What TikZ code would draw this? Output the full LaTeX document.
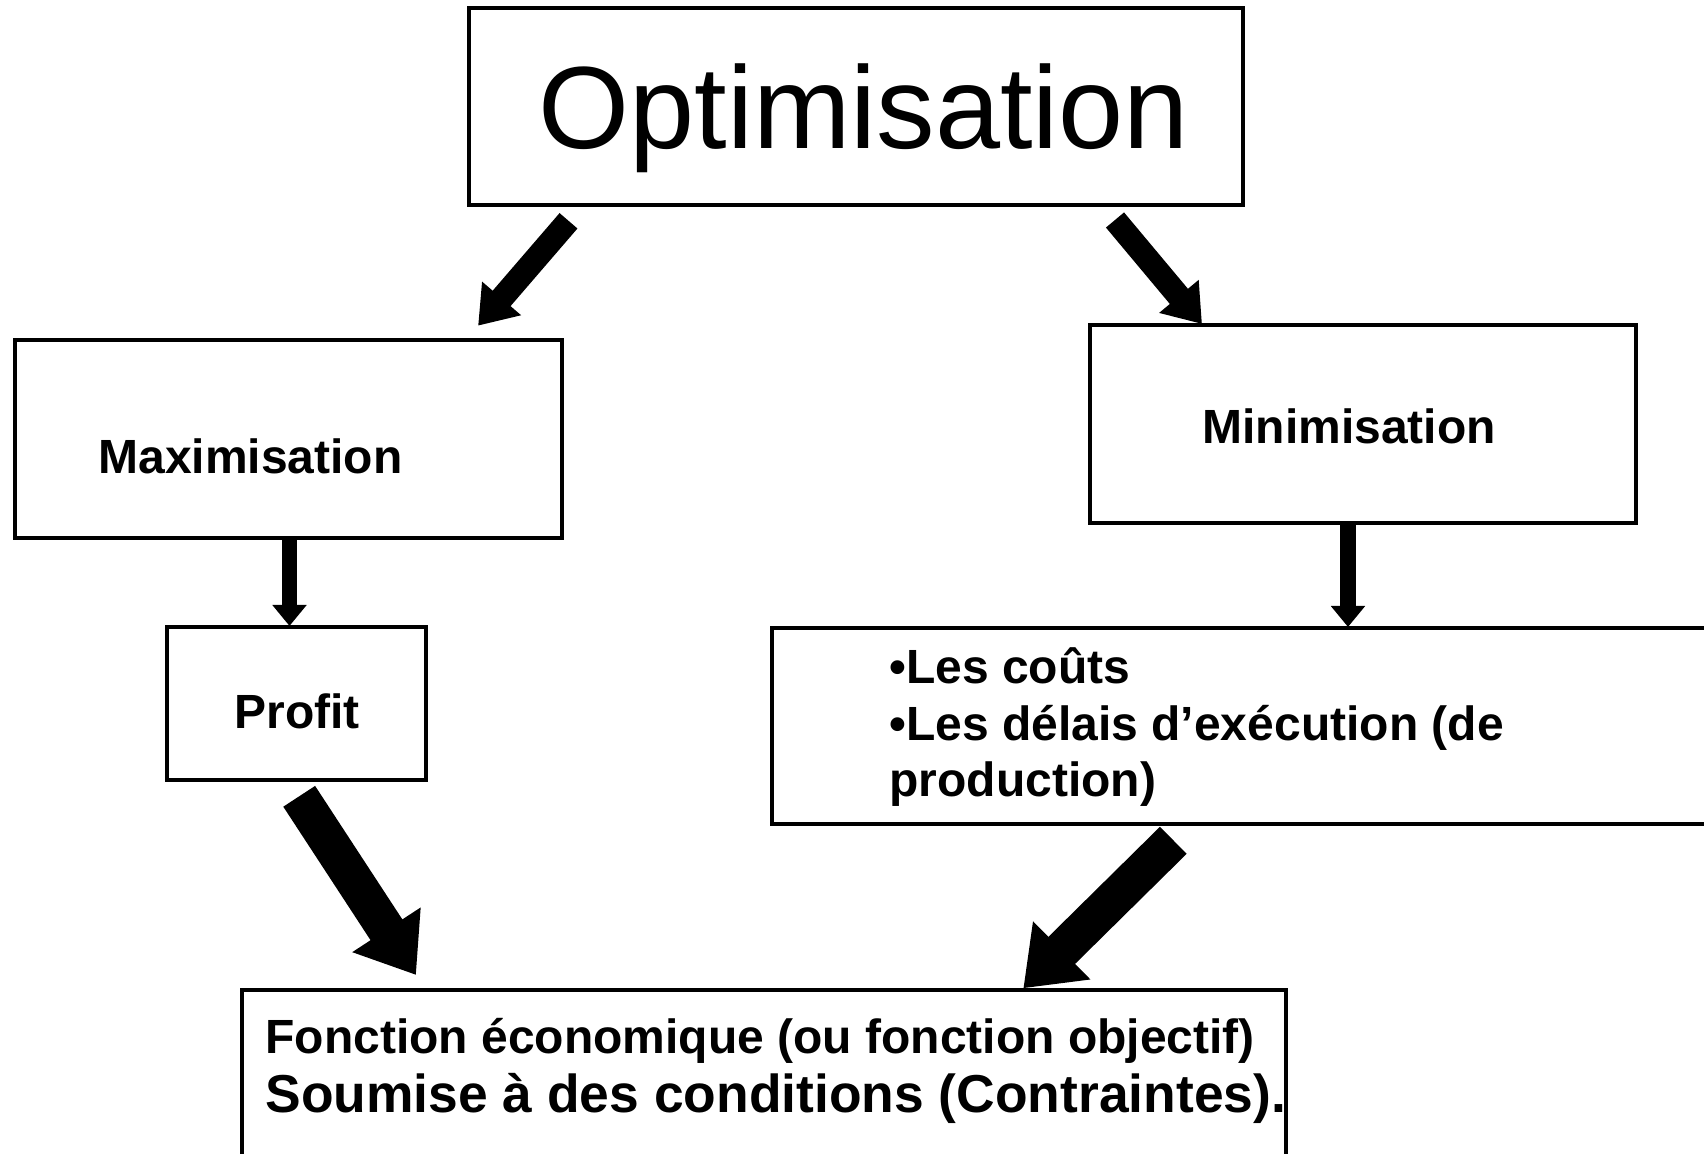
\documentclass[tikz,border=0pt]{standalone}
\usepackage{fontspec}
\setmainfont{Liberation Sans}
\usetikzlibrary{arrows.meta}
\begin{document}
\begin{tikzpicture}[x=0.5pt,y=-0.5pt,
  box/.style={draw, line width=2.4pt, inner sep=0pt},
  lbl/.style={inner sep=0pt, font=\bfseries\fontsize{24}{28}\selectfont},
  bigarrow/.style={line width=19pt, -{Triangle[length=27pt,width=39pt]}},
  midarrow/.style={line width=11.8pt, -{Triangle[length=18pt,width=24.5pt]}},
  smallarrow/.style={line width=7.8pt, -{Triangle[length=10.5pt,width=16.5pt]}}]
\useasboundingbox (0,0) rectangle (1704,1154);
\fill[white] (0,0) rectangle (1704,1154);
\clip (0,0) rectangle (1704,1154);
% boxes
\node[box, minimum width=387pt, minimum height=98.5pt] (opt) at (856,106.5) {};
\node[box, minimum width=273.5pt, minimum height=99pt] (max) at (288.5,439) {};
\node[box, minimum width=273pt, minimum height=99pt] (min) at (1363,424) {};
\node[box, minimum width=129.5pt, minimum height=76.5pt] (prof) at (296.5,703.5) {};
\node[box, minimum width=479pt, minimum height=98pt] (cost) at (1251,726) {};
\node[box, minimum width=522pt, minimum height=96pt] (fonc) at (764,1086) {};
% texts
\node[inner sep=0pt, anchor=base, font=\fontsize{58.5}{64}\selectfont] (topt) at (864,149) {Optimisation};
\node[lbl, anchor=base west] (tmax) at (98,474) {Maximisation};
\node[lbl, anchor=base west] (tmin) at (1202,444) {Minimisation};
\node[lbl, anchor=base west] (tprof) at (234,729) {Profit};
\node[lbl, anchor=base west] (c1) at (889,684) {•Les coûts};
\node[lbl, anchor=base west] (c2) at (889,741) {•Les délais d’exécution (de};
\node[lbl, anchor=base west] (c3) at (889,797) {production)};
\node[lbl, anchor=base west] (f1) at (265,1053) {Fonction économique (ou fonction objectif)};
\node[lbl, anchor=base west, font=\bfseries\fontsize{26.7}{30}\selectfont] (f2) at (265,1112) {Soumise à des conditions (Contraintes).};
% arrow ends
\coordinate (a1s) at (568.5,220.8); \coordinate (a1e) at (478.1,325.7);
\coordinate (a2s) at (1115,220);   \coordinate (a2e) at (1202,324);
\coordinate (a3s) at (289.5,538);  \coordinate (a3e) at (289.5,626);
\coordinate (a4s) at (1348,523);   \coordinate (a4e) at (1348,627);
\coordinate (a5s) at (299.2,796.3); \coordinate (a5e) at (416,975);
\coordinate (a6s) at (1173.3,840.3); \coordinate (a6e) at (1023.3,988.3);
\draw[midarrow] (a1s) -- (a1e);
\draw[midarrow] (a2s) -- (a2e);
\draw[smallarrow] (a3s) -- (a3e);
\draw[smallarrow] (a4s) -- (a4e);
\draw[bigarrow] (a5s) -- (a5e);
\draw[bigarrow] (a6s) -- (a6e);
\end{tikzpicture}
\end{document}
